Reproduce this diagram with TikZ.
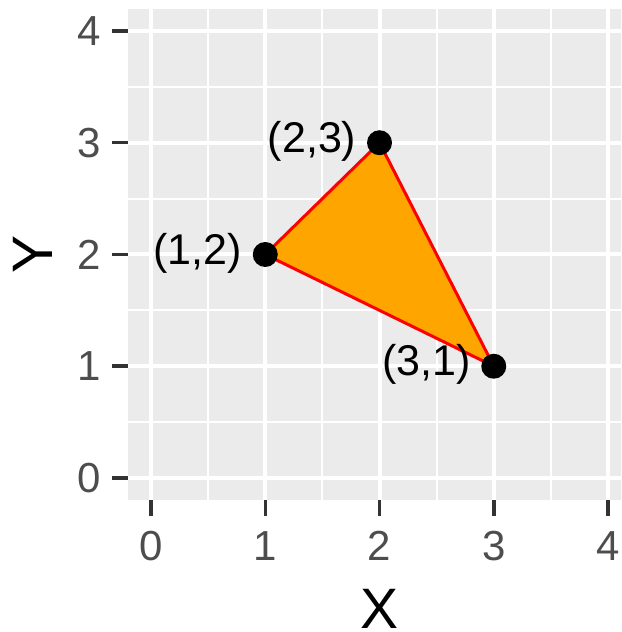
\documentclass[tikz,border=0pt]{standalone}
\usepackage{fontspec}
\setmainfont{Liberation Sans}
\usetikzlibrary{positioning}
\definecolor{panelbg}{HTML}{EBEBEB}
\definecolor{ticktext}{HTML}{4D4D4D}
\definecolor{tickline}{HTML}{333333}
\definecolor{trifill}{HTML}{FFA500}
\definecolor{triedge}{HTML}{FF0000}

\begin{document}
\begin{tikzpicture}[
  x=114.25pt, y=111.75pt,
  major/.style={white, line width=4pt},
  minor/.style={white, line width=2.2pt},
  tickmark/.style={tickline, line width=3.5pt},
  ticklab/.style={text=ticktext, font=\fontsize{42}{46}\selectfont, inner sep=0pt},
  dot/.style={circle, fill=black, minimum size=25pt, inner sep=0pt},
  ptlab/.style={font=\fontsize{43}{48}\selectfont, inner sep=0pt,
    anchor=mid east, xshift=-23pt, yshift=-7pt},
  axtitle/.style={font=\fontsize{57}{60}\selectfont, inner sep=0pt, anchor=base},
  ]
  \useasboundingbox (-1.3217,-1.3781) rectangle (4.1138,4.2774);
  \clip (-1.3217,-1.3781) rectangle (4.1138,4.2774);
  \fill[panelbg] (-0.2,-0.2) rectangle (4.2,4.2);
  \foreach \v in {0.5,1.5,2.5,3.5} {
    \draw[minor] (\v,-0.2) -- (\v,4.2);
    \draw[minor] (-0.2,\v) -- (4.2,\v);
  }
  \foreach \v in {0,...,4} {
    \draw[major] (\v,-0.2) -- (\v,4.2);
    \draw[major] (-0.2,\v) -- (4.2,\v);
    \draw[tickmark] (\v,-0.2) -- ++(0,-16pt);
    \draw[tickmark] (-0.2,\v) -- ++(-16pt,0);
    \node[ticklab, anchor=north, yshift=-31pt] (xt\v) at (\v,-0.2) {\v};
    \node[ticklab, anchor=east, xshift=-27pt] (yt\v) at (-0.2,\v) {\v};
  }

  % triangle and its corners
  \coordinate (a) at (1,2);
  \coordinate (b) at (2,3);
  \coordinate (c) at (3,1);
  \filldraw[fill=trifill, draw=triedge, line width=3pt, line join=round]
    (a) -- (b) -- (c) -- cycle;
  \node[dot] (pa) at (a) {};
  \node[dot] (pb) at (b) {};
  \node[dot] (pc) at (c) {};
  \node[ptlab] (la) at (a) {(1,2)};
  \node[ptlab] (lb) at (b) {(2,3)};
  \node[ptlab] (lc) at (c) {(3,1)};

  \node[axtitle] (xtitle) at (2,-1.345) {X};
  \node[axtitle, rotate=90] (ytitle) at (-0.858,2) {Y};
\end{tikzpicture}
\end{document}
